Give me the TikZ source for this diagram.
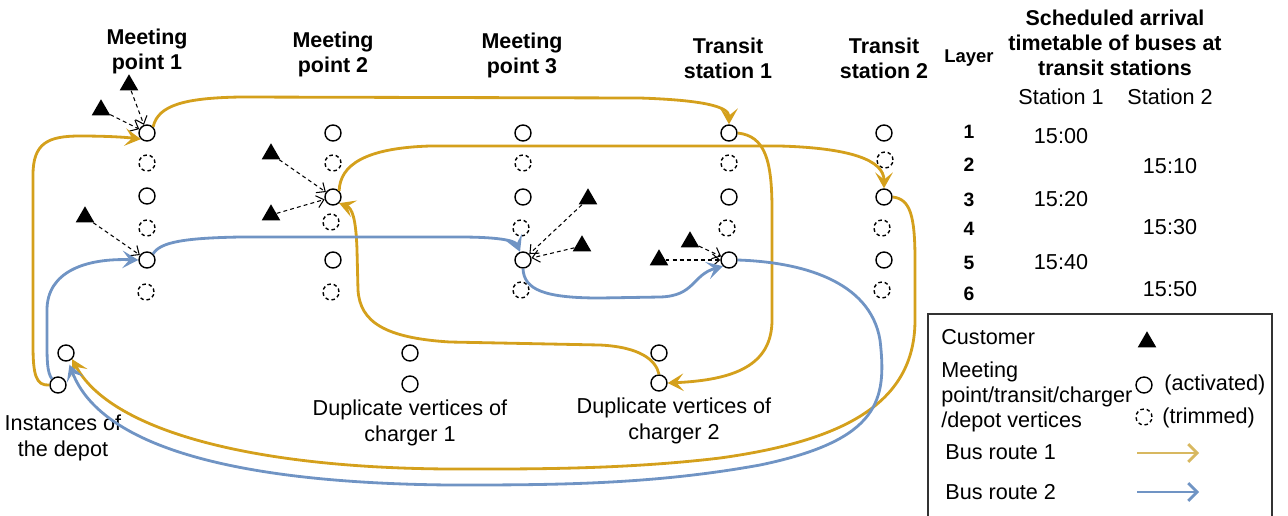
\documentclass[tikz,border=0pt]{standalone}
\usepackage{fontspec}
\setmainfont{Liberation Sans}
\usetikzlibrary{arrows.meta,shapes.geometric}
\definecolor{routeyellow}{RGB}{212,160,28}
\definecolor{routeblue}{RGB}{112,148,196}
\definecolor{legyellow}{RGB}{216,184,96}
\tikzset{
  vtxon/.style={circle,draw,line width=0.8pt,minimum size=0.32cm,inner sep=0pt},
  vtxoff/.style={vtxon,dash pattern=on 2pt off 1.6pt},
  cust/.style={regular polygon,regular polygon sides=3,fill=black,minimum size=0.43cm,inner sep=0pt},
  walkto/.style={line width=0.6pt,dash pattern=on 2.2pt off 1.8pt,-{Straight Barb[length=4pt,width=7pt]}},
  busA/.style={line width=1.6pt,color=routeyellow,-{Stealth[length=9pt,width=10pt,inset=4pt]}},
  busB/.style={busA,color=routeblue},
  legA/.style={line width=1.6pt,-{Straight Barb[length=5pt,width=10pt]}},
  txt/.style={font=\fontsize{12.3}{14.4}\selectfont,inner sep=0pt,align=center},
  hd/.style={txt,font=\fontsize{12.2}{14.2}\selectfont\bfseries},
}

\begin{document}
\begin{tikzpicture}[x=0.02cm,y=-0.02cm]
			%%%%% START %%%%%
			\useasboundingbox (0,0) rectangle (1288,515);
			
			\node[hd] (hdm1) at (147,51) {Meeting\\point 1};
			\node[hd] (hdm2) at (333,54) {Meeting\\point 2};
			\node[hd] (hdm3) at (522,55) {Meeting\\point 3};
			\node[hd] (hdt1) at (728,58) {Transit\\station 1};
			\node[hd] (hdt2) at (884,58) {Transit\\station 2};
			
			% meeting point 1
			\node[vtxon] (m1v1) at (147,133) {};
			\node[vtxoff] (m1v2) at (147,163) {};
			\node[vtxon] (m1v3) at (147,196) {};
			\node[vtxoff] (m1v4) at (147,228) {};
			\node[vtxon] (m1v5) at (147,260) {};
			\node[vtxoff] (m1v6) at (146,292) {};
			
			% meeting point 2
			\node[vtxon] (m2v1) at (333,133) {};
			\node[vtxoff] (m2v2) at (333,163) {};
			\node[vtxon] (m2v3) at (333,197) {};
			\node[vtxoff] (m2v4) at (331,222) {};
			\node[vtxon] (m2v5) at (333,260) {};
			\node[vtxoff] (m2v6) at (331,292) {};
			
			% meeting point 3
			\node[vtxon] (m3v1) at (523,133) {};
			\node[vtxoff] (m3v2) at (523,163) {};
			\node[vtxon] (m3v3) at (523,197) {};
			\node[vtxoff] (m3v4) at (521,228) {};
			\node[vtxon] (m3v5) at (523,260) {};
			\node[vtxoff] (m3v6) at (521,290) {};
			
			% transit station 1
			\node[vtxon] (t1v1) at (729,133) {};
			\node[vtxoff] (t1v2) at (729,163) {};
			\node[vtxon] (t1v3) at (729,197) {};
			\node[vtxoff] (t1v4) at (727,228) {};
			\node[vtxon] (t1v5) at (729,260) {};
			
			% transit station 2
			\node[vtxon] (t2v1) at (884,133) {};
			\node[vtxoff] (t2v2) at (885,160) {};
			\node[vtxon] (t2v3) at (884,197) {};
			\node[vtxoff] (t2v4) at (882,228) {};
			\node[vtxon] (t2v5) at (884,260) {};
			\node[vtxoff] (t2v6) at (882,290) {};
			
			% depot and chargers
			\node[vtxon] (dep1) at (66,353) {};
			\node[vtxon] (dep2) at (58,385) {};
			\node[vtxon] (chA1) at (410,353) {};
			\node[vtxon] (chA2) at (410,384) {};
			\node[vtxon] (chB1) at (659,353) {};
			\node[vtxon] (chB2) at (659,383) {};
			
			\node[txt] (lbdep) at (63,438) {Instances of\\the depot};
			\node[txt] (lbchA) at (410,423) {Duplicate vertices of\\charger 1};
			\node[txt] (lbchB) at (674,421) {Duplicate vertices of\\charger 2};
			
			% customers
			\node[cust] (cu1) at (129,85) {};
			\node[cust] (cu2) at (101,110) {};
			\node[cust] (cu3) at (85,217) {};
			\node[cust] (cu4) at (271,154) {};
			\node[cust] (cu5) at (271,215) {};
			\node[cust] (cu6) at (588,199) {};
			\node[cust] (cu7) at (582,246) {};
			\node[cust] (cu8) at (659,260) {};
			\node[cust] (cu9) at (690,242) {};
			
			\draw[walkto] (cu1) -- (m1v1);
			\draw[walkto] (cu2) -- (m1v1);
			\draw[walkto] (cu3) -- (m1v5);
			\draw[walkto] (cu4) -- (m2v3);
			\draw[walkto] (cu5) -- (m2v3);
			\draw[walkto] (cu6) -- (m3v5);
			\draw[walkto] (cu7) -- (m3v5);
			\draw[walkto] (cu8) -- (t1v5);
			\draw[walkto] (cu9) -- (t1v5);
			
			% bus route 1
			\draw[busA] (dep2.west) .. controls (36,386) and (33,375) .. (33,345) -- (33,175) .. controls (33,143) and (48,136) .. (80,136) .. controls (115,136) and (132,138) .. (m1v1.south west);
			\draw[busA] (m1v1.north east) .. controls (158,105) and (185,98) .. (240,97) -- (640,98) .. controls (700,100) and (729,106) .. (t1v1.north);
			\draw[busA] (t1v1.east) .. controls (765,136) and (772,160) .. (772,210) -- (772,320) .. controls (772,365) and (735,380) .. (chB2.east);
			\draw[busA] (chB2.north) .. controls (656,360) and (640,347) .. (600,345) -- (450,342) .. controls (385,338) and (360,322) .. (358,290) -- (357,250) .. controls (356,218) and (352,208) .. (m2v3.south east);
			\draw[busA] (m2v3.north east) .. controls (340,165) and (365,148) .. (430,146) -- (780,146) .. controls (850,148) and (884,160) .. (t2v3.north);
			\draw[busA] (t2v3.east) .. controls (910,199) and (915,215) .. (915,260) -- (915,320) .. controls (915,400) and (850,440) .. (720,458) .. controls (620,470) and (520,469) .. (450,469) .. controls (250,468) and (110,430) .. (dep1.-45);
			
			% bus route 2
			\draw[busB] (dep2.north west) .. controls (47,372) and (47,360) .. (47,340) -- (47,310) .. controls (47,272) and (85,258) .. (m1v5.west);
			\draw[busB] (m1v5.north east) .. controls (160,242) and (185,238) .. (240,237) -- (460,237) .. controls (495,237) and (515,240) .. (m3v5.110);
			\draw[busB] (m3v5.south) .. controls (524,290) and (545,298) .. (600,298) -- (660,297) .. controls (695,296) and (692,275) .. (t1v5.south west);
			\draw[busB,shorten >=2pt] (t1v5.east) .. controls (800,262) and (870,280) .. (880,340) .. controls (887,400) and (880,440) .. (760,465) .. controls (650,485) and (550,485) .. (450,485) .. controls (230,483) and (100,445) .. (dep1.-75);
			
			% timetable
			\node[hd] (hdtab) at (1115,43) {Scheduled arrival\\timetable of buses at\\transit stations};
			\node[hd,font=\fontsize{10.5}{12}\selectfont\bfseries] (hdlay) at (969,58) {Layer};
			\node[txt] (hds1) at (1061,97) {Station 1};
			\node[txt] (hds2) at (1170,97) {Station 2};
			\node[hd,font=\fontsize{11}{12}\selectfont\bfseries] (ly1) at (969,132) {1};
			\node[hd,font=\fontsize{11}{12}\selectfont\bfseries] (ly2) at (969,165) {2};
			\node[hd,font=\fontsize{11}{12}\selectfont\bfseries] (ly3) at (969,200) {3};
			\node[hd,font=\fontsize{11}{12}\selectfont\bfseries] (ly4) at (969,229) {4};
			\node[hd,font=\fontsize{11}{12}\selectfont\bfseries] (ly5) at (969,263) {5};
			\node[hd,font=\fontsize{11}{12}\selectfont\bfseries] (ly6) at (969,294) {6};
			\node[txt] (tm1) at (1061,136) {15:00};
			\node[txt] (tm2) at (1170,166) {15:10};
			\node[txt] (tm3) at (1061,199) {15:20};
			\node[txt] (tm4) at (1170,227) {15:30};
			\node[txt] (tm5) at (1061,262) {15:40};
			\node[txt] (tm6) at (1170,289) {15:50};
			
			% legend
			\draw[line width=0.8pt,color=black!80] (928,314) rectangle (1272,520);
			\node[txt,anchor=west] (lgcutx) at (941,337) {Customer};
			\node[cust] (lgcu) at (1147,342) {};
			\node[txt,anchor=west,align=left] (lgvtx) at (941,397) {Meeting\\point/transit/charger\\/depot vertices};
			\node[vtxon] (lgon) at (1144,385) {};
			\node[txt,anchor=west] (lgontx) at (1164,385) {(activated)};
			\node[vtxoff] (lgoff) at (1144,417) {};
			\node[txt,anchor=west] (lgofftx) at (1162,418) {(trimmed)};
			\node[txt,anchor=west] (lgbA) at (945,452) {Bus route 1};
			\node[txt,anchor=west] (lgbB) at (945,492) {Bus route 2};
			\coordinate (lgA0) at (1137,453);
			\coordinate (lgA1) at (1199,453);
			\coordinate (lgB0) at (1137,492);
			\coordinate (lgB1) at (1199,492);
			\draw[legA,color=legyellow] (lgA0) -- (lgA1);
			\draw[legA,color=routeblue] (lgB0) -- (lgB1);
			
			%%%%% END %%%%%
\end{tikzpicture}
\end{document}
